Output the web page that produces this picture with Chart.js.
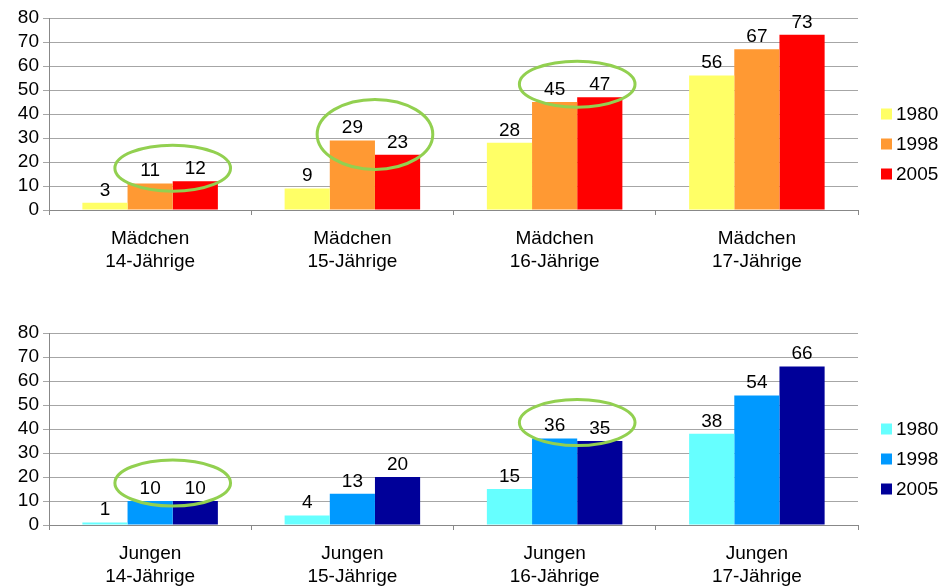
<!DOCTYPE html>
<html lang="de">
<head>
    <meta charset="utf-8">
    <title>Mädchen und Jungen</title>
    <style>
        body { margin: 0; background: #fff; overflow: hidden; }
        .box { position: absolute; left: 0; width: 942px; height: 287px; }
    </style>
</head>
<body>
    <div class="box" style="top:0"><canvas id="topChart"></canvas></div>
    <div class="box" style="top:315px"><canvas id="bottomChart"></canvas></div>
    <script src="https://cdn.jsdelivr.net/npm/chart.js"></script>
    <script>
        // data
        const years = ['1980', '1998', '2005'];
        const girlLabels = [['Mädchen', '14-Jährige'], ['Mädchen', '15-Jährige'], ['Mädchen', '16-Jährige'], ['Mädchen', '17-Jährige']];
        const boyLabels = [['Jungen', '14-Jährige'], ['Jungen', '15-Jährige'], ['Jungen', '16-Jährige'], ['Jungen', '17-Jährige']];
        const girls1980 = [3, 9, 28, 56];
        const girls1998 = [11, 29, 45, 67];
        const girls2005 = [12, 23, 47, 73];
        const boys1980 = [1, 4, 15, 38];
        const boys1998 = [10, 13, 36, 54];
        const boys2005 = [10, 20, 35, 66];
        const yTicks = [0, 10, 20, 30, 40, 50, 60, 70, 80];

        const font = 'Liberation Sans, Arial, sans-serif';

        // value above every bar
        const valueLabels = {
            id: 'valueLabels',
            afterDatasetsDraw(chart) {
                const ctx = chart.ctx;
                ctx.save();
                ctx.font = '19px ' + font;
                ctx.fillStyle = '#000';
                ctx.textAlign = 'center';
                ctx.textBaseline = 'bottom';
                chart.data.datasets.forEach((ds, i) => {
                    chart.getDatasetMeta(i).data.forEach((bar, j) => {
                        ctx.fillText(ds.data[j], bar.x, bar.y - 3);
                    });
                });
                ctx.restore();
            }
        };

        // green rings round the 1998/2005 pair
        const rings = {
            id: 'rings',
            afterDatasetsDraw(chart, args, opts) {
                const ctx = chart.ctx;
                const m1 = chart.getDatasetMeta(1).data;
                const m2 = chart.getDatasetMeta(2).data;
                ctx.save();
                ctx.strokeStyle = '#92D050';
                ctx.lineWidth = 3;
                (opts.items || []).forEach(it => {
                    const a = m1[it.index], b = m2[it.index];
                    const cx = (a.x + b.x) / 2;
                    const cy = Math.min(a.y, b.y) + it.dy;
                    const rx = (b.x - a.x) * 1.28;
                    ctx.beginPath();
                    ctx.ellipse(cx, cy, rx, it.ry, 0, 0, Math.PI * 2);
                    ctx.stroke();
                });
                ctx.restore();
            }
        };

        // legend to the right, drawn by hand so it sits where the original has it
        const sideLegend = {
            id: 'sideLegend',
            afterDraw(chart) {
                const ctx = chart.ctx;
                const area = chart.chartArea;
                const mid = (area.top + area.bottom) / 2;
                ctx.save();
                ctx.font = '19px ' + font;
                ctx.textBaseline = 'middle';
                chart.data.datasets.forEach((ds, i) => {
                    const y = mid + i * 30;
                    const x = area.right + 23;
                    ctx.fillStyle = ds.backgroundColor;
                    ctx.fillRect(x, y - 5.5, 11, 11);
                    ctx.fillStyle = '#000';
                    ctx.fillText(ds.label, x + 15, y + 1);
                });
                ctx.restore();
            }
        };

        const makeChart = (id, labels, series, colors, ringItems) => {
            const ctx = document.getElementById(id).getContext('2d');
            return new Chart(ctx, {
                type: 'bar',
                data: {
                    labels: labels,
                    datasets: years.map((y, i) => ({
                        label: y,
                        data: series[i],
                        backgroundColor: colors[i],
                        borderWidth: 0,
                        barPercentage: 1,
                        categoryPercentage: 0.67
                    }))
                },
                plugins: [valueLabels, rings, sideLegend],
                options: {
                    responsive: true,
                    maintainAspectRatio: false,
                    animation: false,
                    layout: { padding: { top: 18, left: 0, right: 84, bottom: 16 } },
                    plugins: {
                        tooltip: { enabled: false },
                        rings: { items: ringItems },
                        legend: { display: false }
                    },
                    scales: {
                        x: {
                            afterFit: s => { s.height = 61; },
                            grid: { drawOnChartArea: false, drawTicks: true, tickLength: 5, color: '#888' },
                            border: { color: '#888' },
                            ticks: {
                                color: '#000',
                                padding: 12,
                                font: { family: font, size: 19, lineHeight: 1.23 }
                            }
                        },
                        y: {
                            min: 0,
                            max: 80,
                            afterBuildTicks: s => { s.ticks = yTicks.map(v => ({ value: v })); },
                            afterFit: s => { s.width = 49; },
                            grid: { color: '#a6a6a6', tickLength: 6 },
                            border: { color: '#888' },
                            ticks: {
                                color: '#000',
                                padding: 4,
                                autoSkip: false,
                                font: { family: font, size: 19 }
                            }
                        }
                    }
                }
            });
        };

        makeChart('topChart', girlLabels, [girls1980, girls1998, girls2005],
            ['#FFFF66', '#FF9933', '#FF0000'],
            [{ index: 0, dy: -13, ry: 23 }, { index: 1, dy: -6, ry: 35 }, { index: 2, dy: -13, ry: 23 }]);
        makeChart('bottomChart', boyLabels, [boys1980, boys1998, boys2005],
            ['#66FFFF', '#0099FF', '#000099'],
            [{ index: 0, dy: -18, ry: 23 }, { index: 2, dy: -16, ry: 23 }]);
    </script>
</body>
</html>
